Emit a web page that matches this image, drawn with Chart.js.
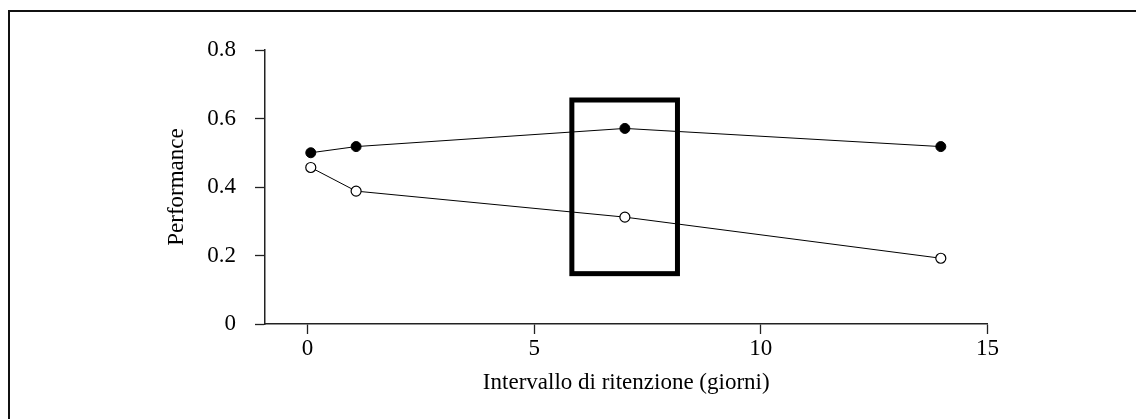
<!DOCTYPE html>
<html>
<head>
<meta charset="utf-8">
<script src="https://cdn.jsdelivr.net/npm/chart.js@4/dist/chart.umd.min.js"></script>
<style>
    html, body { margin: 0; padding: 0; background: #fff; }
    #wrap { position: relative; width: 1136px; height: 419px; overflow: hidden; }
    #frame { position: absolute; left: 8px; top: 10px; width: 1200px; height: 500px;
             border-top: 2px solid #111; border-left: 2px solid #111; }
    canvas { position: absolute; left: 0; top: 0; }
</style>
</head>
<body>
<div id="wrap">
    <div id="frame"></div>
    <canvas id="chart" width="1136" height="419"></canvas>
</div>
<script>
    // Intervallo di ritenzione (giorni)
    const retentionDays = [0.07, 1.07, 7, 13.97];
    // Performance, punti pieni / punti vuoti
    const filledSeries = [0.500, 0.518, 0.571, 0.518];
    const openSeries = [0.457, 0.388, 0.312, 0.192];

    const xTicks = [0, 5, 10, 15];
    const xTickLabels = ['0', '5', '10', '15'];
    const yTicks = [0, 0.2, 0.4, 0.6, 0.8];
    const yTickLabels = ['0', '0.2', '0.4', '0.6', '0.8'];

    // rettangolo evidenziato, in coordinate dei dati: [x1, x2, y1, y2]
    const highlightBox = [5.83, 8.16, 0.147, 0.654];

    const fontFamily = '"Liberation Serif", "Times New Roman", serif';
    Chart.defaults.color = '#000';
    Chart.defaults.font.family = fontFamily;

    const boxPlugin = {
        id: 'highlightBox',
        afterDatasetsDraw: function(chart) {
            const x = chart.scales.x;
            const y = chart.scales.y;
            const ctx = chart.ctx;
            const x1 = x.getPixelForValue(highlightBox[0]);
            const x2 = x.getPixelForValue(highlightBox[1]);
            const y1 = y.getPixelForValue(highlightBox[3]);
            const y2 = y.getPixelForValue(highlightBox[2]);
            ctx.save();
            ctx.strokeStyle = '#000';
            ctx.lineWidth = 5;
            ctx.strokeRect(x1, y1, x2 - x1, y2 - y1);
            ctx.restore();
        }
    };

    function toPoints(values) {
        return values.map(function(v, i) { return { x: retentionDays[i], y: v }; });
    }

    new Chart(document.getElementById('chart').getContext('2d'), {
        type: 'line',
        data: {
            datasets: [{
                data: toPoints(filledSeries),
                borderColor: '#000',
                borderWidth: 1,
                pointRadius: 5,
                pointBackgroundColor: '#000',
                pointBorderColor: '#000',
                pointBorderWidth: 1,
                tension: 0
            }, {
                data: toPoints(openSeries),
                borderColor: '#000',
                borderWidth: 1,
                pointRadius: 5,
                pointBackgroundColor: '#fff',
                pointBorderColor: '#000',
                pointBorderWidth: 1.2,
                tension: 0
            }]
        },
        options: {
            responsive: false,
            animation: false,
            events: [],
            layout: { padding: { left: 150, top: 50, right: 148.5, bottom: 0 } },
            plugins: {
                legend: { display: false },
                tooltip: { enabled: false }
            },
            scales: {
                x: {
                    type: 'linear',
                    min: -0.94,
                    max: 15,
                    afterFit: function(scale) { scale.height = 95; },
                    afterBuildTicks: function(scale) {
                        scale.ticks = xTicks.map(function(v) { return { value: v }; });
                    },
                    ticks: {
                        font: { size: 23 },
                        padding: 1,
                        callback: function(value) { return xTickLabels[xTicks.indexOf(value)]; }
                    },
                    grid: { drawOnChartArea: false, drawTicks: true, tickLength: 10, tickColor: '#222', tickWidth: 1.3 },
                    border: { display: true, color: '#222', width: 1.5 },
                    title: {
                        display: true,
                        text: 'Intervallo di ritenzione (giorni)',
                        font: { size: 23 },
                        padding: { top: 0, bottom: 22 }
                    }
                },
                y: {
                    type: 'linear',
                    min: 0,
                    max: 0.8,
                    afterFit: function(scale) { scale.width = 115; },
                    afterBuildTicks: function(scale) {
                        scale.ticks = yTicks.map(function(v) { return { value: v }; });
                    },
                    ticks: {
                        font: { size: 23 },
                        padding: 19,
                        callback: function(value) { return yTickLabels[yTicks.indexOf(value)]; }
                    },
                    grid: { drawOnChartArea: false, drawTicks: true, tickLength: 10, tickColor: '#222', tickWidth: 1.3 },
                    border: { display: true, color: '#222', width: 1.5 },
                    title: {
                        display: true,
                        text: 'Performance',
                        font: { size: 23 },
                        padding: { top: 13, bottom: 0 }
                    }
                }
            }
        },
        plugins: [boxPlugin]
    });
</script>
</body>
</html>
